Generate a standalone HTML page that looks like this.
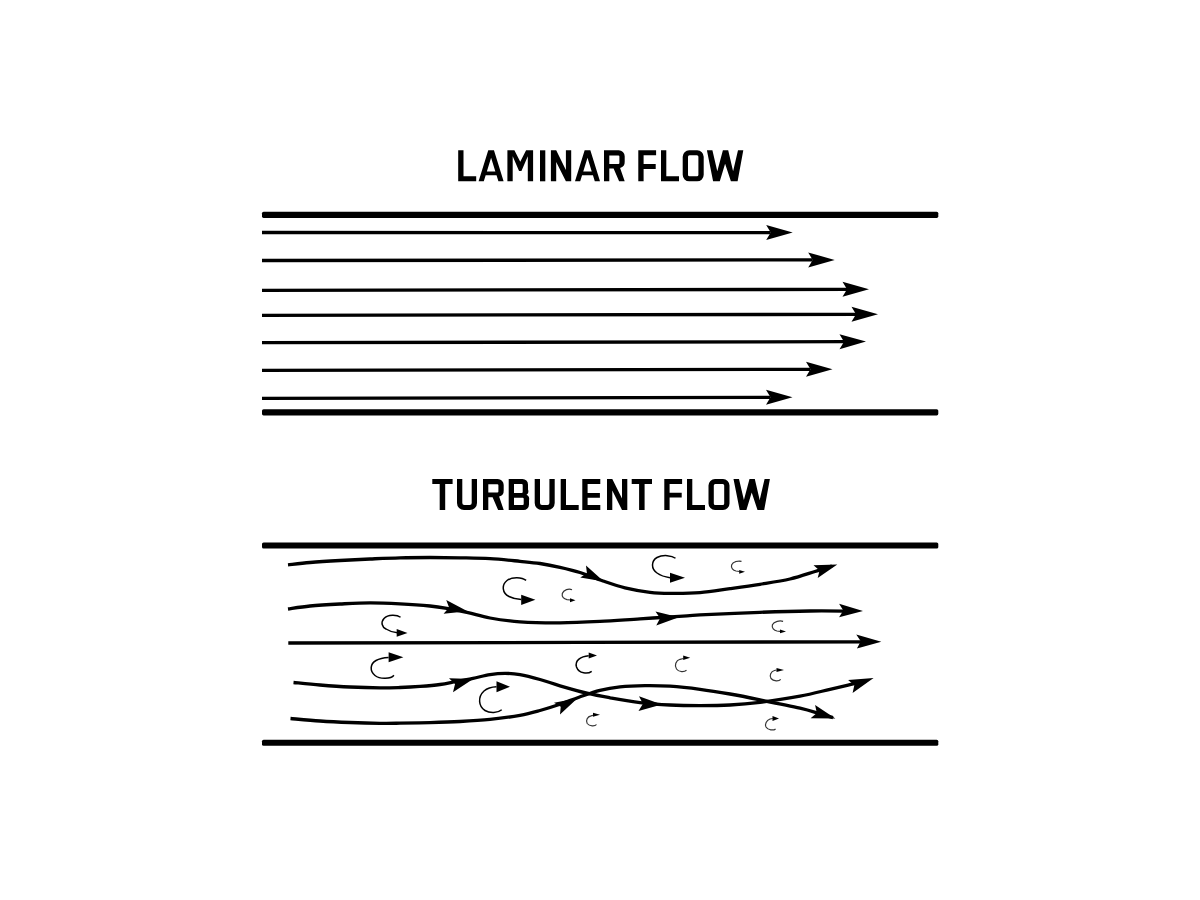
<!DOCTYPE html>
<html><head><meta charset="utf-8"><style>
html,body{margin:0;padding:0;background:#fff;width:1200px;height:900px;overflow:hidden}
svg{display:block}

</style></head><body><div>
<svg width="1200" height="900" viewBox="0 0 1200 900" fill="#000" fill-rule="evenodd">
<path transform="translate(458.2,150.3)" d="M0,0H5.3V26.0H18.0V31.0H0Z"/>
<path transform="translate(478.6,150.3)" d="M0,31.0L9.65,0H15.35L25.0,31.0H19.8L17.932258064516127,25.0H7.0677419354838715L5.2,31.0ZM8.250645161290322,21.2H16.749354838709678L12.5,7.5492227979274595Z"/>
<path transform="translate(507.4,150.3)" d="M0,31.0V0H7L12.85,11.4L18.7,0H25.7V31.0H20.4V5.9L14.049999999999999,20.6H11.65L5.3,5.9V31.0Z"/>
<path transform="translate(540.0,150.3)" d="M0,0H5.3V31.0H0Z"/>
<path transform="translate(550.9,150.3)" d="M0,31.0V0H5.3L15.0,19.6V0H20.3V31.0H15.0L5.3,11.6V31.0Z"/>
<path transform="translate(575.0,150.3)" d="M0,31.0L9.65,0H15.35L25.0,31.0H19.8L17.932258064516127,25.0H7.0677419354838715L5.2,31.0ZM8.250645161290322,21.2H16.749354838709678L12.5,7.5492227979274595Z"/>
<path transform="translate(604.0,150.3)" d="M0,31.0V0H14.7A6.0,6.0 0 0 1 20.7,6.0V11.5A6.0,6.0 0 0 1 16.1,17.6L20.7,31.0H15.1L9.6,18.2H5.3V31.0ZM5.3,5.3H14.399999999999999A1,1 0 0 1 15.399999999999999,6.3V12.6A1,1 0 0 1 14.399999999999999,13.6H5.3Z"/>
<path transform="translate(638.3,150.3)" d="M0,31.0V0H17.8V5.0H5.3V13.8H17.400000000000002V18.6H5.3V31.0Z"/>
<path transform="translate(661.0,150.3)" d="M0,0H5.3V26.0H18.0V31.0H0Z"/>
<path transform="translate(682.7,150.3)" d="M6.5,0H14.5A6.5,6.5 0 0 1 21.0,6.5V24.5A6.5,6.5 0 0 1 14.5,31.0H6.5A6.5,6.5 0 0 1 0,24.5V6.5A6.5,6.5 0 0 1 6.5,0ZM6.8,5.0A1.5,1.5 0 0 0 5.3,6.5V24.5A1.5,1.5 0 0 0 6.8,26.0H14.2A1.5,1.5 0 0 0 15.7,24.5V6.5A1.5,1.5 0 0 0 14.2,5.0Z"/>
<path transform="translate(706.9,150.3)" d="M0,0H5.5L10.4,20.9L16,0H21.3L26.2,20.9L31.1,0H36.4L30.7,31.0H24L18.2,13.4L12.9,31.0H6.2Z"/>
<path transform="translate(432.3,479.0)" d="M0,0H20.3V5.0H12.9V31.0H7.4V5.0H0Z"/>
<path transform="translate(457.0,479.0)" d="M0,0H5.3V24.0A2.0,2.0 0 0 0 7.3,26.0H12.7A2.0,2.0 0 0 0 14.7,24.0V0H20.0V24.0A7.0,7.0 0 0 1 13.0,31.0H7.0A7.0,7.0 0 0 1 0,24.0Z"/>
<path transform="translate(483.0,479.0)" d="M0,31.0V0H14.7A6.0,6.0 0 0 1 20.7,6.0V11.5A6.0,6.0 0 0 1 16.1,17.6L20.7,31.0H15.1L9.6,18.2H5.3V31.0ZM5.3,5.3H14.399999999999999A1,1 0 0 1 15.399999999999999,6.3V12.6A1,1 0 0 1 14.399999999999999,13.6H5.3Z"/>
<path transform="translate(508.7,479.0)" d="M0,0H13.8A5.5,5.5 0 0 1 19.3,5.5V10.5A4.5,4.5 0 0 1 17.8,15.8A5,5 0 0 1 20.3,21.5V25.5A5.5,5.5 0 0 1 14.8,31.0H0ZM5.3,5.0H13.0A1,1 0 0 1 14.0,6.0V13A1,1 0 0 1 13.0,14H5.3ZM5.3,18.7H14.0A1,1 0 0 1 15.0,19.7V25.0A1,1 0 0 1 14.0,26.0H5.3Z"/>
<path transform="translate(534.7,479.0)" d="M0,0H5.3V24.0A2.0,2.0 0 0 0 7.3,26.0H12.7A2.0,2.0 0 0 0 14.7,24.0V0H20.0V24.0A7.0,7.0 0 0 1 13.0,31.0H7.0A7.0,7.0 0 0 1 0,24.0Z"/>
<path transform="translate(560.7,479.0)" d="M0,0H5.3V26.0H18.0V31.0H0Z"/>
<path transform="translate(582.3,479.0)" d="M0,31.0V0H18.0V5.0H5.3V14H17.6V18.7H5.3V26.0H18.0V31.0Z"/>
<path transform="translate(607.0,479.0)" d="M0,31.0V0H5.3L15.0,19.6V0H20.3V31.0H15.0L5.3,11.6V31.0Z"/>
<path transform="translate(631.7,479.0)" d="M0,0H20.3V5.0H12.9V31.0H7.4V5.0H0Z"/>
<path transform="translate(664.3,479.0)" d="M0,31.0V0H17.8V5.0H5.3V13.8H17.400000000000002V18.6H5.3V31.0Z"/>
<path transform="translate(687.0,479.0)" d="M0,0H5.3V26.0H18.0V31.0H0Z"/>
<path transform="translate(708.5,479.0)" d="M6.5,0H14.5A6.5,6.5 0 0 1 21.0,6.5V24.5A6.5,6.5 0 0 1 14.5,31.0H6.5A6.5,6.5 0 0 1 0,24.5V6.5A6.5,6.5 0 0 1 6.5,0ZM6.8,5.0A1.5,1.5 0 0 0 5.3,6.5V24.5A1.5,1.5 0 0 0 6.8,26.0H14.2A1.5,1.5 0 0 0 15.7,24.5V6.5A1.5,1.5 0 0 0 14.2,5.0Z"/>
<path transform="translate(733.5,479.0)" d="M0,0H5.5L10.4,20.9L16,0H21.3L26.2,20.9L31.1,0H36.4L30.7,31.0H24L18.2,13.4L12.9,31.0H6.2Z"/>
<rect x="262" y="211.70" width="676.3" height="6.2" rx="1.6"/>
<rect x="262" y="409.20" width="676.3" height="6.2" rx="1.6"/>
<rect x="262" y="542.40" width="676.3" height="6.2" rx="1.6"/>
<rect x="262" y="739.65" width="676.3" height="6.2" rx="1.6"/>
<line x1="262" y1="232.5" x2="770.70" y2="232.60" stroke="#000" stroke-width="3.3"/>
<path d="M792.70,232.60 L766.20,225.10 L770.70,232.60 L766.20,240.10Z"/>
<line x1="262" y1="260.5" x2="812.70" y2="259.92" stroke="#000" stroke-width="3.3"/>
<path d="M834.70,259.90 L808.19,252.43 L812.70,259.92 L808.21,267.43Z"/>
<line x1="262" y1="290.4" x2="847.00" y2="289.34" stroke="#000" stroke-width="3.3"/>
<path d="M869.00,289.30 L842.49,281.85 L847.00,289.34 L842.51,296.85Z"/>
<line x1="262" y1="315.3" x2="856.00" y2="314.34" stroke="#000" stroke-width="3.3"/>
<path d="M878.00,314.30 L851.49,306.84 L856.00,314.34 L851.51,321.84Z"/>
<line x1="262" y1="342.7" x2="844.00" y2="341.64" stroke="#000" stroke-width="3.3"/>
<path d="M866.00,341.60 L839.49,334.15 L844.00,341.64 L839.51,349.15Z"/>
<line x1="262" y1="370.3" x2="810.50" y2="369.34" stroke="#000" stroke-width="3.3"/>
<path d="M832.50,369.30 L805.99,361.85 L810.50,369.34 L806.01,376.85Z"/>
<line x1="262" y1="398.3" x2="770.50" y2="397.34" stroke="#000" stroke-width="3.3"/>
<path d="M792.50,397.30 L765.99,389.85 L770.50,397.34 L766.01,404.85Z"/>
<path d="M288.00,564.80 C291.67,564.42 301.33,563.22 310.00,562.50 C318.67,561.78 330.00,561.08 340.00,560.50 C350.00,559.92 360.00,559.45 370.00,559.00 C380.00,558.55 390.00,558.05 400.00,557.80 C410.00,557.55 420.00,557.50 430.00,557.50 C440.00,557.50 450.00,557.62 460.00,557.80 C470.00,557.98 480.00,558.02 490.00,558.60 C500.00,559.18 511.67,560.48 520.00,561.30 C528.33,562.12 533.33,562.50 540.00,563.50 C546.67,564.50 553.33,565.80 560.00,567.30 C566.67,568.80 572.83,570.22 580.00,572.50 C587.17,574.78 595.50,578.45 603.00,581.00 C610.50,583.55 617.17,585.92 625.00,587.80 C632.83,589.68 642.50,591.37 650.00,592.30 C657.50,593.23 661.67,593.33 670.00,593.40 C678.33,593.47 690.00,593.48 700.00,592.70 C710.00,591.92 720.00,590.10 730.00,588.70 C740.00,587.30 750.00,585.92 760.00,584.30 C770.00,582.68 780.83,581.13 790.00,579.00 C799.17,576.87 808.00,573.67 815.00,571.50 C822.00,569.33 829.17,566.92 832.00,566.00" fill="none" stroke="#000" stroke-width="3.3" stroke-linecap="butt"/>
<path d="M288.00,609.00 C291.67,608.50 301.33,606.83 310.00,606.00 C318.67,605.17 330.00,604.53 340.00,604.00 C350.00,603.47 360.00,602.83 370.00,602.80 C380.00,602.77 390.00,603.27 400.00,603.80 C410.00,604.33 421.83,605.17 430.00,606.00 C438.17,606.83 442.67,607.70 449.00,608.80 C455.33,609.90 461.17,611.07 468.00,612.60 C474.83,614.13 481.33,616.47 490.00,618.00 C498.67,619.53 508.33,621.00 520.00,621.80 C531.67,622.60 546.67,622.87 560.00,622.80 C573.33,622.73 586.67,622.07 600.00,621.40 C613.33,620.73 626.83,619.63 640.00,618.80 C653.17,617.97 669.00,617.05 679.00,616.40 C689.00,615.75 686.50,615.58 700.00,614.90 C713.50,614.22 741.67,612.95 760.00,612.30 C778.33,611.65 795.00,611.20 810.00,611.00 C825.00,610.80 843.33,611.08 850.00,611.10" fill="none" stroke="#000" stroke-width="3.3" stroke-linecap="butt"/>
<path d="M288.30,643.00 C385.25,642.80 773.05,642.00 870.00,641.80" fill="none" stroke="#000" stroke-width="3.3" stroke-linecap="butt"/>
<path d="M293.50,682.50 C297.92,682.92 310.58,684.25 320.00,685.00 C329.42,685.75 340.00,686.52 350.00,687.00 C360.00,687.48 371.67,687.82 380.00,687.90 C388.33,687.98 393.33,687.75 400.00,687.50 C406.67,687.25 413.33,686.90 420.00,686.40 C426.67,685.90 434.00,685.32 440.00,684.50 C446.00,683.68 450.50,682.53 456.00,681.50 C461.50,680.47 467.33,679.45 473.00,678.30 C478.67,677.15 484.67,675.42 490.00,674.60 C495.33,673.78 500.00,673.40 505.00,673.40 C510.00,673.40 514.17,673.58 520.00,674.60 C525.83,675.62 533.33,677.63 540.00,679.50 C546.67,681.37 552.17,683.52 560.00,685.80 C567.83,688.08 578.67,691.20 587.00,693.20 C595.33,695.20 601.17,696.23 610.00,697.80 C618.83,699.37 630.00,701.40 640.00,702.60 C650.00,703.80 660.00,704.50 670.00,705.00 C680.00,705.50 690.00,705.60 700.00,705.60 C710.00,705.60 720.00,705.55 730.00,705.00 C740.00,704.45 748.33,703.77 760.00,702.30 C771.67,700.83 788.33,698.37 800.00,696.20 C811.67,694.03 821.67,691.23 830.00,689.30 C838.33,687.37 844.00,685.98 850.00,684.60 C856.00,683.22 863.33,681.60 866.00,681.00" fill="none" stroke="#000" stroke-width="3.3" stroke-linecap="butt"/>
<path d="M290.50,718.50 C295.42,718.92 310.08,720.33 320.00,721.00 C329.92,721.67 340.00,722.12 350.00,722.50 C360.00,722.88 371.67,723.18 380.00,723.30 C388.33,723.42 391.67,723.32 400.00,723.20 C408.33,723.08 420.00,722.88 430.00,722.60 C440.00,722.32 450.00,722.03 460.00,721.50 C470.00,720.97 480.00,720.43 490.00,719.40 C500.00,718.37 511.67,716.78 520.00,715.30 C528.33,713.82 533.33,712.33 540.00,710.50 C546.67,708.67 553.50,706.52 560.00,704.30 C566.50,702.08 572.33,699.53 579.00,697.20 C585.67,694.87 593.17,692.03 600.00,690.30 C606.83,688.57 612.50,687.58 620.00,686.80 C627.50,686.02 636.67,685.70 645.00,685.60 C653.33,685.50 660.83,685.58 670.00,686.20 C679.17,686.82 690.00,688.00 700.00,689.30 C710.00,690.60 720.00,692.25 730.00,694.00 C740.00,695.75 748.33,697.43 760.00,699.80 C771.67,702.17 790.00,705.87 800.00,708.20 C810.00,710.53 814.50,712.23 820.00,713.80 C825.50,715.37 830.83,716.97 833.00,717.60" fill="none" stroke="#000" stroke-width="3.3" stroke-linecap="butt"/>
<path d="M603.87,581.44 L586.00,565.50 L586.91,573.31 L580.25,577.50Z"/>
<path d="M837.30,564.40 L813.50,565.30 L819.59,570.39 L817.70,578.10Z"/>
<path d="M467.51,611.14 L446.25,599.90 L449.05,607.59 L443.60,613.70Z"/>
<path d="M678.84,617.27 L655.50,611.50 L660.07,618.28 L656.25,625.50Z"/>
<path d="M863.00,611.10 L839.10,603.80 L843.30,610.52 L839.10,617.25Z"/>
<path d="M881.30,641.70 L856.25,634.40 L860.77,641.21 L856.90,648.40Z"/>
<path d="M473.12,678.93 L449.00,678.25 L455.04,684.10 L453.00,692.25Z"/>
<path d="M661.74,704.40 L639.00,696.25 L642.95,703.77 L638.50,711.00Z"/>
<path d="M873.60,678.10 L848.10,680.00 L854.32,685.19 L852.60,693.10Z"/>
<path d="M577.48,698.17 L554.00,702.75 L560.74,706.71 L560.00,714.50Z"/>
<path d="M835.40,718.40 L815.10,705.10 L816.82,713.03 L810.60,718.25Z"/>
<path d="M400.55,617.25 C397,614.5 388,614 384,618.5 C380.5,622.5 382,627 386,629 C389,631 393,632.3 397.4,632.7" fill="none" stroke="#000" stroke-width="1.5"/><path d="M407.50,632.90 L396.70,629.10 L396.70,636.70Z"/>
<path d="M526.1,580.4 C522,577 512,576.5 507,580.5 C501.5,585 502,593 509,596.5 C512.5,598.3 516.5,599.2 521.2,599.6" fill="none" stroke="#000" stroke-width="1.5"/><path d="M535.40,599.80 L521.20,594.70 L521.20,604.90Z"/>
<path d="M675.5,558.25 C672,555.5 663,554.3 657,557.5 C651,561 651,569 657,573 C660.5,575.5 665,577 670,577.7" fill="none" stroke="#000" stroke-width="1.5"/><path d="M685.00,577.80 L670.00,572.80 L670.00,582.80Z"/>
<path d="M393.9,675.2 C391,679 380,679.5 375,675.5 C369.5,671 370,664 376,660.5 C380,658.2 384,657.7 388.6,657.5" fill="none" stroke="#000" stroke-width="1.5"/><path d="M403.40,657.30 L388.60,652.30 L388.60,662.30Z"/>
<path d="M501.75,709.75 C498,713 490,713.5 485,710.5 C478.5,706.5 477.5,697 484,691 C487.5,688 491.5,687 496.5,686.8" fill="none" stroke="#000" stroke-width="1.5"/><path d="M510.00,686.80 L496.50,681.30 L496.50,692.30Z"/>
<path d="M591.7,671.3 C588,674 579,674 576.5,667 C574.5,660 581,656.5 588.7,655.8" fill="none" stroke="#000" stroke-width="1.5"/><path d="M597.00,655.50 L588.70,652.50 L588.70,658.50Z"/>
<path d="M572,589.7 C569,588.3 563.5,589.5 562.3,593.5 C561.5,597 564,599 567,599.6 L570.5,600" fill="none" stroke="#000" stroke-width="1.2" stroke-opacity="0.8"/><path d="M575.50,600.20 L570.00,598.20 L570.00,602.20Z"/>
<path d="M741.5,561.3 C738,560.8 733,561.5 731.6,565 C730.8,568 733,570.5 736,571 L739.5,571.5" fill="none" stroke="#000" stroke-width="1.2" stroke-opacity="0.8"/><path d="M745.00,571.80 L739.20,569.90 L739.20,573.70Z"/>
<path d="M783.1,621.3 C780,620.5 774,621 772.4,624.8 C771.5,628 774,630.5 777,631 L780,631.3" fill="none" stroke="#000" stroke-width="1.2" stroke-opacity="0.8"/><path d="M786.00,631.40 L780.00,629.50 L780.00,633.30Z"/>
<path d="M686.5,670.3 C684.5,672 679,672.5 676.5,669 C674,665.5 676,660.5 680,659.3 L683.5,658.5" fill="none" stroke="#000" stroke-width="1.2" stroke-opacity="0.8"/><path d="M690.20,657.80 L683.20,655.60 L683.20,660.00Z"/>
<path d="M596.5,724.5 C595,726.5 589.5,726.5 587.2,723.5 C585.5,720.5 587.5,716.5 591,715.8 L593,715.3" fill="none" stroke="#000" stroke-width="1.2" stroke-opacity="0.8"/><path d="M600.00,714.70 L593.00,712.70 L593.00,716.70Z"/>
<path d="M780.7,679.3 C779,681.5 773.5,681.5 771,678.5 C769,675.5 771,671.5 774.5,670.5 L776.5,670" fill="none" stroke="#000" stroke-width="1.2" stroke-opacity="0.8"/><path d="M784.00,670.00 L776.50,668.00 L776.50,672.00Z"/>
<path d="M775.6,728.9 C773.5,730.5 768,730.5 766,727 C764.5,724 766.5,720.5 770,719 L772.8,718.5" fill="none" stroke="#000" stroke-width="1.2" stroke-opacity="0.8"/><path d="M779.00,718.50 L772.50,716.10 L772.50,720.90Z"/>
</svg></div>
</body></html>
